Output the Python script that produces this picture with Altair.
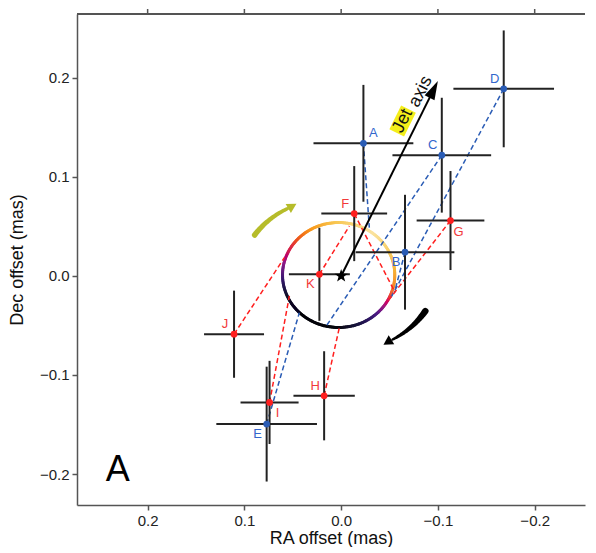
import altair as alt
import pandas as pd
import numpy as np

# ---------------- values ----------------
labels = ["A", "B", "C", "D", "E", "F", "G", "H", "I", "J", "K"]
groups = ["blue"] * 5 + ["red"] * 6
ra_off = [-0.023, -0.066, -0.104, -0.168, 0.077, -0.0135, -0.113, 0.0176, 0.074, 0.1107, 0.0225]
dec_off = [0.134, 0.024, 0.122, 0.189, -0.1496, 0.063, 0.056, -0.121, -0.1277, -0.0588, 0.0017]
ra_err = [0.0516, 0.051, 0.051, 0.052, 0.052, 0.034, 0.035, 0.0317, 0.030, 0.031, 0.0315]
dec_err = [0.059, 0.058, 0.058, 0.059, 0.058, 0.048, 0.050, 0.045, 0.042, 0.044, 0.047]
# model positions on the orbit that each epoch is linked to
model_ra = [-0.0291, -0.055, 0.0157, -0.0514, 0.0432, -0.055, -0.050, 0.0019, 0.0535, 0.0587, -0.0085]
model_dec = [0.0488, -0.0169, -0.051, -0.0219, -0.0371, -0.0152, -0.0232, -0.0522, -0.0202, 0.0185, 0.0505]
label_side = ["ur", "ll", "ul", "ul", "ll", "ul", "lr", "ul", "lr", "ul", "ll"]

x_ticks = [-0.2, -0.1, 0.0, 0.1, 0.2]
y_ticks = [-0.2, -0.1, 0.0, 0.1, 0.2]
x_domain = [-0.252, 0.273]
y_domain = [-0.2313, 0.2646]

# orbit ellipse (centre, semi-axes) and its colour stops by position angle
ell_centre = [0.0026, 0.001]
ell_radii = [0.058, 0.053]
ell_angle_stops = [-135, -90, -61, -45, -35, -24, -12, 8, 30, 55, 95, 120, 140, 155, 168, 185, 205, 225]
ell_colors = ["#000000", "#06060c", "#231453", "#4e1a86", "#a21c7c", "#e6303a", "#f4862a",
              "#f6b53a", "#f8cf6a", "#fae3a0", "#f8c650", "#f89a1e", "#ea4d1f", "#cc1c55",
              "#8c1a88", "#3a1670", "#120e26", "#000000"]

# sense-of-rotation arrows: start/end angle, start/end radius (orbit units), start/end width
olive_arrow = dict(ang=[153, 126], rad=[1.68, 1.56], w=[5.5, 3.5], head_ang=122.5, head_rad=1.55, head_rot=60)
black_arrow = dict(ang=[-24, -52], rad=[1.69, 1.56], w=[6.5, 2.5], head_ang=-55.5, head_rad=1.55, head_rot=238)

jet_head_centre = [-0.0949, 0.1870]
jet_word_pos = [-0.0635, 0.1566]
axis_word_pos = [-0.0822, 0.1862]
panel_pos = [0.231, -0.196]

FONT = "Liberation Sans"
COL = {"blue": ("#2a5cb5", "#3366cc"), "red": ("#ff1f1f", "#f23a3a")}
W, H = 508, 491
STAR = ("M0,-1L0.235,-0.324L0.951,-0.309L0.38,0.124L0.588,0.809L0,0.4L-0.588,0.809"
        "L-0.38,0.124L-0.951,-0.309L-0.235,-0.324Z")

# ---------------- tables ----------------
pts = pd.DataFrame(dict(label=labels, grp=groups, ra=ra_off, dec=dec_off, ra_err=ra_err,
                        dec_err=dec_err, mra=model_ra, mdec=model_dec, side=label_side))

t = np.arange(ell_angle_stops[0], ell_angle_stops[-1], 2.0)
t1 = t + 2.0
rad = np.pi / 180
ell = pd.DataFrame(dict(
    x0=ell_centre[0] - ell_radii[0] * np.cos(t * rad),
    y0=ell_centre[1] + ell_radii[1] * np.sin(t * rad),
    x1=ell_centre[0] - ell_radii[0] * np.cos(t1 * rad),
    y1=ell_centre[1] + ell_radii[1] * np.sin(t1 * rad),
    ang=(t + t1) / 2))


def arrow_frame(spec):
    a = np.linspace(spec["ang"][0], spec["ang"][1], 30)
    r = np.linspace(spec["rad"][0], spec["rad"][1], 30)
    w = np.linspace(spec["w"][0], spec["w"][1], 30)
    return pd.DataFrame(dict(
        x=ell_centre[0] - ell_radii[0] * r * np.cos(a * rad),
        y=ell_centre[1] + ell_radii[1] * r * np.sin(a * rad),
        w=w, i=np.arange(30)))


def head_frame(spec):
    a = spec["head_ang"] * rad
    return pd.DataFrame(dict(
        x=[ell_centre[0] - ell_radii[0] * spec["head_rad"] * np.cos(a)],
        y=[ell_centre[1] + ell_radii[1] * spec["head_rad"] * np.sin(a)]))


xs = alt.Scale(domain=x_domain, reverse=True, nice=False, zero=False)
ys = alt.Scale(domain=y_domain, nice=False, zero=False)
x_axis = alt.Axis(values=x_ticks, format=".1f", title="RA offset (mas)", grid=False, titlePadding=1)
y_axis = alt.Axis(values=y_ticks, format=".1f", title="Dec offset (mas)", grid=False, titlePadding=13)


def X(f):
    return alt.X(f, type="quantitative", scale=xs, axis=x_axis)


def Y(f):
    return alt.Y(f, type="quantitative", scale=ys, axis=y_axis)


# ---------------- layers ----------------
layers = [alt.Chart(ell).mark_rule(strokeWidth=3, strokeCap="round").encode(
    x=X("x0"), y=Y("y0"), x2="x1:Q", y2="y1:Q",
    color=alt.Color("ang:Q", scale=alt.Scale(domain=ell_angle_stops, range=ell_colors), legend=None))]

for g in ["blue", "red"]:
    sub = pts[pts.grp == g]
    layers.append(alt.Chart(sub).mark_rule(strokeDash=[5, 3], strokeWidth=1.5, color=COL[g][0]).encode(
        x=X("ra"), y=Y("dec"), x2="mra:Q", y2="mdec:Q"))

layers.append(alt.Chart(pts).transform_calculate(
    xa="datum.ra - datum.ra_err", xb="datum.ra + datum.ra_err"
).mark_rule(color="#222222", strokeWidth=2).encode(x=X("xa"), x2="xb:Q", y=Y("dec")))

layers.append(alt.Chart(pts).transform_calculate(
    ya="datum.dec - datum.dec_err", yb="datum.dec + datum.dec_err"
).mark_rule(color="#222222", strokeWidth=2).encode(x=X("ra"), y=Y("ya"), y2="yb:Q"))

offsets = {"ur": (10, -10), "ul": (-9, -10), "ll": (-9, 10), "lr": (8, 11)}
for g in ["blue", "red"]:
    sub = pts[pts.grp == g]
    layers.append(alt.Chart(sub).mark_circle(size=45, opacity=1, color=COL[g][0]).encode(
        x=X("ra"), y=Y("dec")))
    for side, (ddx, ddy) in offsets.items():
        s2 = sub[sub.side == side]
        if len(s2) == 0:
            continue
        layers.append(alt.Chart(s2).mark_text(
            font=FONT, fontSize=13, dx=ddx, dy=ddy, align="center", baseline="middle",
            color=COL[g][1]).encode(x=X("ra"), y=Y("dec"), text="label:N"))

# rotation arrows
layers.append(alt.Chart(arrow_frame(olive_arrow)).mark_trail(color="#b6bc2a").encode(
    x=X("x"), y=Y("y"), size=alt.Size("w:Q", scale=None, legend=None), order="i:Q"))
layers.append(alt.Chart(head_frame(olive_arrow)).mark_point(
    shape="M0,-1L1,0.8L-1,0.8Z", angle=olive_arrow["head_rot"], size=110, filled=True,
    color="#b6bc2a", opacity=1).encode(x=X("x"), y=Y("y")))
layers.append(alt.Chart(arrow_frame(black_arrow)).mark_trail(color="#000000").encode(
    x=X("x"), y=Y("y"), size=alt.Size("w:Q", scale=None, legend=None), order="i:Q"))
layers.append(alt.Chart(head_frame(black_arrow)).mark_point(
    shape="M0,-1L1,0.8L-1,0.8Z", angle=black_arrow["head_rot"], size=110, filled=True,
    color="#000000", opacity=1).encode(x=X("x"), y=Y("y")))

# jet axis
jet = pd.DataFrame(dict(x=[0.0], y=[0.0], hx=[jet_head_centre[0]], hy=[jet_head_centre[1]]))
layers.append(alt.Chart(jet).mark_rule(color="black", strokeWidth=2).encode(
    x=X("x"), y=Y("y"), x2="hx:Q", y2="hy:Q"))
layers.append(alt.Chart(jet).mark_point(
    shape="M0,-1L0.5,0.7L-0.5,0.7Z", angle=26.4, size=484, filled=True, color="black",
    opacity=1).encode(x=X("hx"), y=Y("hy")))
layers.append(alt.Chart(jet).mark_point(shape=STAR, filled=True, size=190, color="black",
                                        opacity=1).encode(x=X("x"), y=Y("y")))

words = pd.DataFrame(dict(x=[jet_word_pos[0], axis_word_pos[0]], y=[jet_word_pos[1], axis_word_pos[1]],
                          t=["Jet", "axis"]))
layers.append(alt.Chart(words.iloc[:1]).mark_point(
    shape="M-1,-0.62L1,-0.62L1,0.62L-1,0.62Z", angle=296.4, size=700, filled=True, color="#f4ee1a",
    opacity=1).encode(x=X("x"), y=Y("y")))
layers.append(alt.Chart(words).mark_text(
    font=FONT, fontSize=18, angle=296.4, align="center", baseline="middle", color="#111111"
).encode(x=X("x"), y=Y("y"), text="t:N"))

panel = pd.DataFrame(dict(x=[panel_pos[0]], y=[panel_pos[1]], t=["A"]))
layers.append(alt.Chart(panel).mark_text(
    font=FONT, fontSize=36, align="center", baseline="middle", color="#000000"
).encode(x=X("x"), y=Y("y"), text="t:N"))

# top frame line with outward ticks (no labels)
topt = pd.DataFrame(dict(v=x_ticks))
layers.append(alt.Chart(topt).mark_rule(color="#555555", strokeWidth=1.5).encode(
    x=alt.value(0), x2=alt.value(W), y=alt.value(0)))
layers.append(alt.Chart(topt).mark_rule(color="#555555", strokeWidth=1.5).encode(
    x=X("v"), y=alt.value(-5), y2=alt.value(0)))

chart = alt.layer(*layers).properties(
    width=W, height=H, padding={"left": 0, "top": 0, "right": 0, "bottom": 0}
).configure_view(stroke=None).configure_axis(
    domainColor="#555555", domainWidth=1.5, tickColor="#555555", tickWidth=1.5, tickSize=5,
    labelFont=FONT, labelFontSize=15, labelColor="#222222", labelPadding=3,
    titleFont=FONT, titleFontSize=18, titleFontWeight="normal", titleColor="#111111"
)

chart.save("out.html", embed_options={"renderer": "svg", "actions": False})
